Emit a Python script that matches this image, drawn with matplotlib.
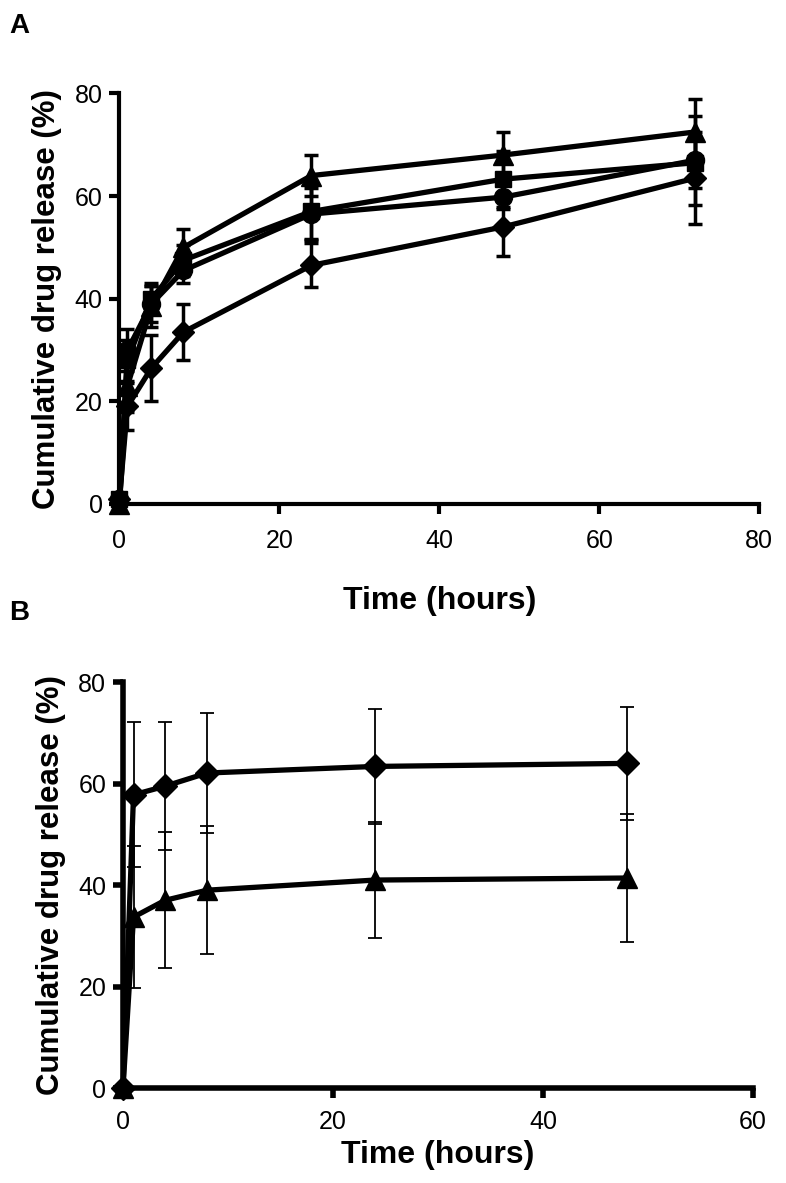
import numpy as np
import matplotlib.pyplot as plt

plt.rcParams['font.family'] = ['Liberation Sans', 'DejaVu Sans']

# panel A
time_a = [0, 1, 4, 8, 24, 48, 72]
diamond_a = [1, 19, 26.5, 33.5, 46.5, 54, 63.5]
diamond_a_err = [0.5, 4.5, 6.5, 5.5, 4.3, 5.6, 9]
square_a = [1, 28, 40, 47.5, 57, 63.3, 66.5]
square_a_err = [0.5, 4, 3, 3, 5.3, 5.5, 5]
circle_a = [1, 30, 39, 45.5, 56.5, 59.8, 67]
circle_a_err = [0.5, 4, 3.5, 2.5, 5, 2.3, 8.7]
triangle_a = [0, 23, 38.5, 50, 64, 68, 72.5]
triangle_a_err = [0.5, 5, 4, 3.5, 4, 4.5, 6.5]

# panel B
time_b = [0, 1, 4, 8, 24, 48]
diamond_b = [0, 57.8, 59.5, 62.1, 63.4, 64]
diamond_b_err = [0, 14.3, 12.6, 11.8, 11.3, 11.1]
triangle_b = [0, 33.7, 37, 39, 41, 41.4]
triangle_b_err = [0, 14, 13.4, 12.6, 11.4, 12.6]

xticks_a = [0, 20, 40, 60, 80]
xticks_b = [0, 20, 40, 60]
yticks = [0, 20, 40, 60, 80]

fig = plt.figure(figsize=(7.86, 11.83), dpi=100)
ax_a = fig.add_axes([0.152, 0.574, 0.814, 0.347])
ax_b = fig.add_axes([0.1565, 0.0803, 0.8015, 0.343])


def style_axes(ax, spine_w, xpad):
    for s in ['top', 'right']:
        ax.spines[s].set_visible(False)
    for s in ['left', 'bottom']:
        ax.spines[s].set_linewidth(spine_w)
    ax.tick_params(width=spine_w, length=7, labelsize=18, pad=5)
    ax.tick_params(axis='x', pad=xpad)
    ax.set_ylabel('Cumulative drug release (%)', fontsize=22.5, fontweight='bold')
    ax.set_xlabel('Time (hours)', fontsize=23, fontweight='bold')


series_a = [(diamond_a, diamond_a_err, 'D', 11),
            (square_a, square_a_err, 's', 11),
            (circle_a, circle_a_err, 'o', 13),
            (triangle_a, triangle_a_err, '^', 14)]
for y, err, m, ms in series_a:
    ax_a.errorbar(time_a, y, yerr=err, color='black', marker=m, markersize=ms,
                  linewidth=3.8, elinewidth=2.5, capsize=5, capthick=2.5,
                  clip_on=False)
ax_a.set_xlim(0, 80)
ax_a.set_ylim(0, 80)
ax_a.set_xticks(xticks_a)
ax_a.set_yticks(yticks)
style_axes(ax_a, 3, 11)
ax_a.yaxis.labelpad = 9
ax_a.xaxis.labelpad = 24

series_b = [(diamond_b, diamond_b_err, 'D', 12),
            (triangle_b, triangle_b_err, '^', 14)]
for y, err, m, ms in series_b:
    ax_b.errorbar(time_b, y, yerr=err, color='black', marker=m, markersize=ms,
                  linewidth=3.8, elinewidth=1.3, capsize=5, capthick=1.3,
                  clip_on=False)
ax_b.set_xlim(0, 60)
ax_b.set_ylim(0, 80)
ax_b.set_xticks(xticks_b)
ax_b.set_yticks(yticks)
style_axes(ax_b, 4, 9)
ax_b.yaxis.labelpad = 9
ax_b.xaxis.labelpad = 4

fig.text(0.012, 0.978, 'A', fontsize=20, fontweight='bold', va='center')
fig.text(0.012, 0.482, 'B', fontsize=20, fontweight='bold', va='center')

plt.savefig('out.png', dpi=100)
